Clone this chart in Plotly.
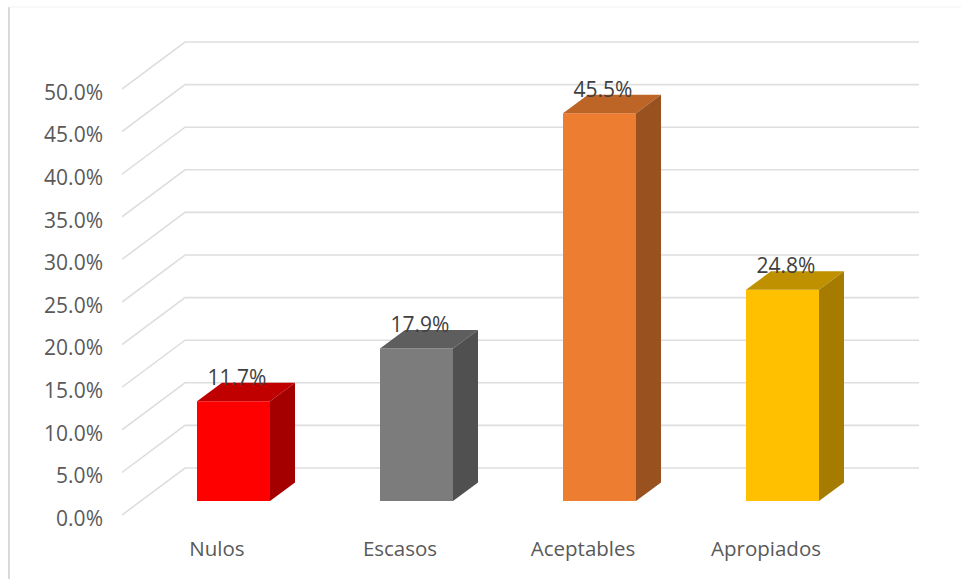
import plotly.graph_objects as go

categories = ["Nulos", "Escasos", "Aceptables", "Apropiados"]
values = [11.7, 17.9, 45.5, 24.8]
y_ticks = [0, 5, 10, 15, 20, 25, 30, 35, 40, 45, 50]
front_colors = ["#FF0000", "#7C7C7C", "#ED7D31", "#FFC000"]
top_colors = ["#C00000", "#5E5E5E", "#BD6427", "#BF9000"]
side_colors = ["#A50000", "#505050", "#9A5120", "#A67C00"]

W, H = 961, 579
L, R, T, B = 122, 31, 20, 45
PX_X = 183.0      # pixels per category
PX_Y = 8.52       # pixels per percent
X0_PX, Y0_PX = 233.5, 515

x_range = [(L - X0_PX) / PX_X, (W - R - X0_PX) / PX_X]
y_range = [(Y0_PX - (H - B)) / PX_Y, (Y0_PX - T) / PX_Y]

WALL_DX, WALL_DY = 63 / PX_X, 47 / PX_Y
WALL_END = (919 - X0_PX) / PX_X
BAR_W = 73 / PX_X
BAR_BASE = 14 / PX_Y
DEPTH_X, DEPTH_Y = 25 / PX_X, 18.5 / PX_Y

GRID = "#DEDEDE"
shapes = []
for t in y_ticks:
    shapes.append(dict(type="path", layer="below",
                       path=f"M {x_range[0]} {t} L {x_range[0] + WALL_DX} {t + WALL_DY} L {WALL_END} {t + WALL_DY}",
                       line=dict(color=GRID, width=1.6)))

px = lambda p: (p - L) / (W - L - R)
py = lambda p: (H - B - p) / (H - T - B)
shapes.append(dict(type="line", xref="paper", yref="paper", x0=px(9), x1=px(9), y0=py(7), y1=py(579),
                   line=dict(color="#D9D9D9", width=2)))
shapes.append(dict(type="line", xref="paper", yref="paper", x0=px(9), x1=px(961), y0=py(7), y1=py(7),
                   line=dict(color="#F2F2F2", width=1)))

fig = go.Figure()
xs = list(range(len(categories)))
fig.add_trace(go.Bar(x=xs, y=values, base=BAR_BASE, width=BAR_W,
                     marker=dict(color=front_colors, line=dict(width=0)),
                     showlegend=False, hoverinfo="skip"))

for i, v in enumerate(values):
    xl, xr = i - BAR_W / 2, i + BAR_W / 2
    top = BAR_BASE + v
    fig.add_trace(go.Scatter(
        x=[xl, xr, xr + DEPTH_X, xl + DEPTH_X, xl],
        y=[top, top, top + DEPTH_Y, top + DEPTH_Y, top],
        mode="lines", fill="toself", fillcolor=top_colors[i],
        line=dict(width=0), showlegend=False, hoverinfo="skip"))
    fig.add_trace(go.Scatter(
        x=[xr, xr + DEPTH_X, xr + DEPTH_X, xr, xr],
        y=[BAR_BASE, BAR_BASE + DEPTH_Y, top + DEPTH_Y, top, BAR_BASE],
        mode="lines", fill="toself", fillcolor=side_colors[i],
        line=dict(width=0), showlegend=False, hoverinfo="skip"))

fig.add_trace(go.Scatter(
    x=[i + 3.5 / PX_X for i in xs],
    y=[BAR_BASE + v + 21.5 / PX_Y for v in values],
    mode="text", text=[f"{v:.1f}%" for v in values], textposition="middle center",
    textfont=dict(family="Open Sans", size=21, color="#404040"),
    showlegend=False, hoverinfo="skip"))

fig.update_layout(
    width=W, height=H, margin=dict(l=L, r=R, t=T, b=B, pad=0),
    paper_bgcolor="white", plot_bgcolor="white", shapes=shapes,
    font=dict(family="Open Sans", size=21, color="#595959"),
    xaxis=dict(range=x_range, tickmode="array", tickvals=[i - 16.5 / PX_X for i in xs],
               ticktext=categories, showgrid=False, zeroline=False, showline=False, ticks="",
               tickfont=dict(size=20.5), ticklabelstandoff=0),
    yaxis=dict(range=y_range, tickmode="array", tickvals=[t - 3.5 / PX_Y for t in y_ticks],
               ticktext=[f"{t:.1f}%" for t in y_ticks], showgrid=False, zeroline=False,
               showline=False, ticks="", tickfont=dict(size=21), ticklabelstandoff=18),
)
fig.write_html("out.html", post_script="document.body.style.margin='0';",
               config=dict(displayModeBar=False))
